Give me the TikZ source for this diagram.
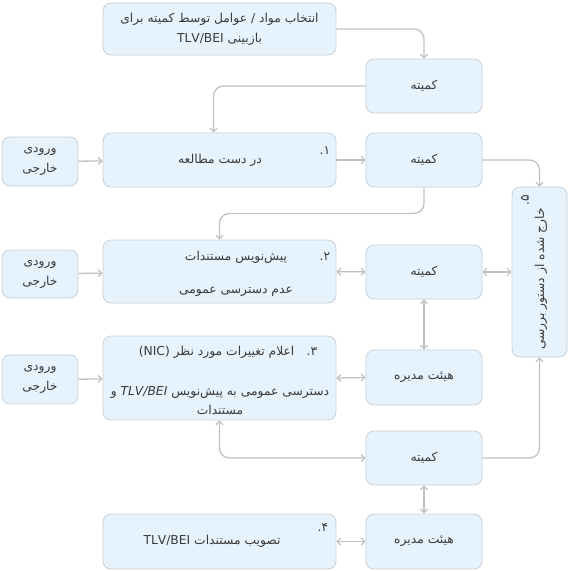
\documentclass[tikz,border=0pt]{standalone}
\usepackage{fontspec}
\setmainfont{DejaVu Sans}
\newfontfamily\fa[Script=Arabic]{DejaVu Sans}
\TeXXeTstate=1
\usepackage{tikz}
\usetikzlibrary{arrows.meta}
\newcommand{\rtl}[1]{\beginR #1\endR}
\newcommand{\ltr}[1]{\beginL #1\endL{}}
\definecolor{boxfill}{HTML}{E6F3FD}
\definecolor{boxline}{HTML}{C9D0D6}
\definecolor{wire}{HTML}{C2C2C2}
\definecolor{ink}{HTML}{3A3A3A}
\tikzset{
    box/.style={draw=boxline, fill=boxfill, rounded corners=8pt, line width=0.8pt,
        text=ink, font=\fa\fontsize{12.3}{20}\selectfont, align=center, inner sep=0pt},
    flow/.style={draw=wire, line width=1.3pt, rounded corners=10pt,
        -{Straight Barb[length=3.5pt,width=7pt]}},
    both/.style={flow, {Straight Barb[length=3.5pt,width=7pt]}-{Straight Barb[length=3.5pt,width=7pt]}},
    lbl/.style={text=ink, font=\fa\fontsize{12.3}{19.5}\selectfont, align=center, inner sep=0pt}
}
\begin{document}
\begin{tikzpicture}[x=1pt, y=1pt]
    \useasboundingbox (0,0) rectangle (568,-571);
    % main column
    \node (select) [box, minimum width=233pt, minimum height=52pt] at (219.5,-29)
        {\rtl{انتخاب مواد / عوامل توسط کمیته برای}\\\rtl{بازبینی \ltr{TLV/BEI}}};
    \node (stage1) [box, minimum width=233pt, minimum height=54pt] at (219.5,-160) {};
    \node (stage2) [box, minimum width=233pt, minimum height=63pt] at (219.5,-271.5) {};
    \node (stage3) [box, minimum width=233pt, minimum height=84pt] at (219.5,-378) {};
    \node (stage4) [box, minimum width=233pt, minimum height=55pt] at (219.5,-541.5) {};
    % committee / board column
    \node (com0) [box, minimum width=116pt, minimum height=54pt] at (424,-86) {\rtl{کمیته}};
    \node (com1) [box, minimum width=116pt, minimum height=54pt] at (424,-160) {\rtl{کمیته}};
    \node (com2) [box, minimum width=116pt, minimum height=54pt] at (424,-272) {\rtl{کمیته}};
    \node (board1) [box, minimum width=116pt, minimum height=55pt] at (424,-377.5) {\rtl{هیئت مدیره}};
    \node (com3) [box, minimum width=116pt, minimum height=54pt] at (424,-458) {\rtl{کمیته}};
    \node (board2) [box, minimum width=116pt, minimum height=55pt] at (424,-541.5) {\rtl{هیئت مدیره}};
    % external inputs
    \node (ext1) [box, minimum width=76pt, minimum height=49pt] at (40,-161.5) {\rtl{ورودی}\\\rtl{خارجی}};
    \node (ext2) [box, minimum width=76pt, minimum height=48pt] at (40,-274) {\rtl{ورودی}\\\rtl{خارجی}};
    \node (ext3) [box, minimum width=76pt, minimum height=49pt] at (40,-379.5) {\rtl{ورودی}\\\rtl{خارجی}};
    % removed from agenda
    \node (excl) [box, minimum width=55pt, minimum height=170pt] at (539.5,-272) {};
    \node (excltext) [lbl, rotate=90] at (541,-279) {\rtl{خارج شده از دستور بررسی}};
    \node (num5) [lbl, rotate=90] at (525,-200) {\rtl{۵.}};
    % texts of the stages
    \node (num1) [lbl] at (325,-151) {\rtl{۱.}};
    \node (text1) [lbl] at (220,-160) {\rtl{در دست مطالعه}};
    \node (num2) [lbl] at (325,-257) {\rtl{۲.}};
    \node (text2a) [lbl] at (236,-257) {\rtl{پیش‌نویس مستندات}};
    \node (text2b) [lbl] at (236,-292) {\rtl{عدم دسترسی عمومی}};
    \node (text3a) [lbl] at (228,-352) {\rtl{۳.\quad اعلام تغییرات مورد نظر \ltr{(NIC)}}};
    \node (text3b) [lbl] at (220,-400.5) {\rtl{دسترسی عمومی به پیش‌نویس \ltr{\textit{TLV/BEI}} و}\\\rtl{مستندات}};
    \node (num4) [lbl] at (323,-528) {\rtl{۴.}};
    \node (text4) [lbl] at (212,-541.5) {\rtl{تصویب مستندات \ltr{TLV/BEI}}};
    % connectors
    \draw[flow] (select.east) -| (com0.north);
    \draw[flow] (com0.west) -| ([xshift=-6pt]stage1.north);
    \draw[flow] (ext1) -- (stage1);
    \draw[flow] (stage1) -- (com1);
    \draw[flow] (com1.east) -| (excl.north);
    \draw[flow] (com1.south) -- ++(0,-26) -| (stage2.north);
    \draw[flow] (ext2) -- (stage2);
    \draw[both] (stage2) -- (com2);
    \draw[both] (com2) -- (excl);
    \draw[both] (com2) -- (board1);
    \draw[flow] (ext3) -- (stage3);
    \draw[both] (stage3.east) -- (board1.west);
    \draw[both] (stage3.south) |- (com3.west);
    \draw[flow] (com3.east) -| (excl.south);
    \draw[both] (com3) -- (board2);
    \draw[both] (stage4) -- (board2);
\end{tikzpicture}
\end{document}
